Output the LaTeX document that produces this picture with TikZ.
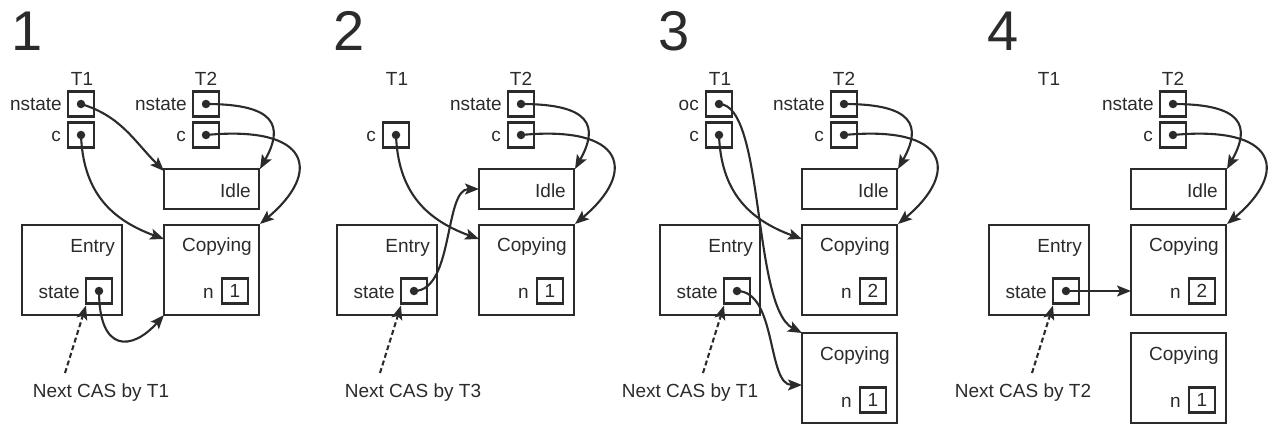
\documentclass[tikz,border=0pt]{standalone}
\usepackage{fontspec}
\setmainfont{Liberation Sans}
\usetikzlibrary{arrows.meta}
\definecolor{ink}{HTML}{2B2B2B}
\newcommand\labfont{\fontsize{19}{19}\selectfont}
\newcommand\bigfont{\fontsize{56}{56}\selectfont}
\begin{document}
\begin{tikzpicture}[x=1pt,y=-1pt,
  box/.style={draw=ink, line width=2.4pt, inner sep=0pt, outer sep=0pt, anchor=north west},
  cell/.style={draw=ink, line width=2.2pt, minimum width=26pt, minimum height=25pt, inner sep=0pt, outer sep=0pt, font=\labfont, text=ink},
  dot/.style={circle, fill=ink, inner sep=0pt, minimum size=8.5pt},
  lbl/.style={font=\labfont, text=ink, inner sep=0pt},
  digit/.style={font=\bigfont, text=ink, inner sep=0pt, anchor=base west},
  ptr/.style={-{Stealth[length=14pt,width=11pt,inset=3pt]}, line width=2.1pt, draw=ink},
  hint/.style={ptr, dash pattern=on 5pt off 3pt}]
\useasboundingbox (0,0) rectangle (1280,434);
\fill[white] (0,0) rectangle (1280,434);

% ---------------- Panel 1 ----------------
\begin{scope}
\node[digit] (Anum) at (11,50) {1};
\node[lbl, anchor=base] (At1) at (82,85) {T1};
\node[lbl, anchor=base] (At2) at (206,85) {T2};
\node[cell] (A1ns) at (81,104) {}; \node[dot] (A1nsd) at (A1ns.center) {};
\node[cell] (A1c) at (81,135) {};  \node[dot] (A1cd) at (A1c.center) {};
\node[lbl, anchor=base east] (A1nsl) at (62,110) {nstate};
\node[lbl, anchor=base east] (A1cl) at (61,141) {c};
\node[cell] (A2ns) at (206,104) {}; \node[dot] (A2nsd) at (A2ns.center) {};
\node[cell] (A2c) at (206,135) {};  \node[dot] (A2cd) at (A2c.center) {};
\node[lbl, anchor=base east] (A2nsl) at (187,110) {nstate};
\node[lbl, anchor=base east] (A2cl) at (186,141) {c};
\node[box, minimum width=95pt, minimum height=40pt] (Aidle) at (164,169) {};
\node[lbl, anchor=base east] (Aidlel) at (251,197) {Idle};
\node[box, minimum width=95pt, minimum height=90pt] (Acp) at (164,225) {};
\node[lbl, anchor=base east] (Acpl) at (252,251) {Copying};
\node[cell] (An) at (235,291) {1};
\node[lbl, anchor=base east] (Anl) at (214,298) {n};
\node[box, minimum width=100pt, minimum height=90pt] (Aent) at (22,225) {};
\node[lbl, anchor=base east] (Aentl) at (115,252) {Entry};
\node[cell] (Ast) at (99,291) {}; \node[dot] (Astd) at (Ast.center) {};
\node[lbl, anchor=base east] (Astl) at (80,298) {state};
\node[lbl, anchor=base] (Anext) at (101,397) {Next CAS by T1};
\coordinate (Ahs) at (65,373);
\draw[hint] (Ahs) -- ([yshift=-2pt]Ast.south west);
\draw[ptr] (A1ns.center) .. controls +(40,12) and +(-30,-30) .. ([yshift=-2pt]Aidle.north west);
\draw[ptr] (A1c.center) .. controls +(2,55) and +(-55,-20) .. ([yshift=-14pt]Acp.north west);
\draw[ptr] (A2ns.center) .. controls +(70,0) and +(24,-43) .. ([xshift=1pt]Aidle.north east);
\draw[ptr] (A2c.center) .. controls +(105,-10) and +(62,-52) .. ([xshift=1pt,yshift=1pt]Acp.north east);
\draw[ptr] (Ast.center) .. controls +(0,62) and +(-32,36) .. (Acp.south west);
\end{scope}

% ---------------- Panel 2 ----------------
\begin{scope}[shift={(315,0)}]
\node[digit] (Bnum) at (18,50) {2};
\node[lbl, anchor=base] (Bt1) at (82,85) {T1};
\node[lbl, anchor=base] (Bt2) at (206,85) {T2};
\node[cell] (B1c) at (81,135) {};  \node[dot] (B1cd) at (B1c.center) {};
\node[lbl, anchor=base east] (B1cl) at (61,141) {c};
\node[cell] (B2ns) at (206,104) {}; \node[dot] (B2nsd) at (B2ns.center) {};
\node[cell] (B2c) at (206,135) {};  \node[dot] (B2cd) at (B2c.center) {};
\node[lbl, anchor=base east] (B2nsl) at (187,110) {nstate};
\node[lbl, anchor=base east] (B2cl) at (186,141) {c};
\node[box, minimum width=95pt, minimum height=40pt] (Bidle) at (164,169) {};
\node[lbl, anchor=base east] (Bidlel) at (251,197) {Idle};
\node[box, minimum width=95pt, minimum height=90pt] (Bcp) at (164,225) {};
\node[lbl, anchor=base east] (Bcpl) at (252,251) {Copying};
\node[cell] (Bn) at (235,291) {1};
\node[lbl, anchor=base east] (Bnl) at (214,298) {n};
\node[box, minimum width=100pt, minimum height=90pt] (Bent) at (22,225) {};
\node[lbl, anchor=base east] (Bentl) at (115,252) {Entry};
\node[cell] (Bst) at (99,291) {}; \node[dot] (Bstd) at (Bst.center) {};
\node[lbl, anchor=base east] (Bstl) at (80,298) {state};
\node[lbl, anchor=base] (Bnext) at (98,397) {Next CAS by T3};
\coordinate (Bhs) at (65,373);
\draw[hint] (Bhs) -- ([yshift=-2pt]Bst.south west);
\draw[ptr] (B1c.center) .. controls +(2,55) and +(-55,-20) .. ([yshift=-14pt]Bcp.north west);
\draw[ptr] (B2ns.center) .. controls +(70,0) and +(24,-43) .. ([xshift=1pt]Bidle.north east);
\draw[ptr] (B2c.center) .. controls +(105,-10) and +(62,-52) .. ([xshift=1pt,yshift=1pt]Bcp.north east);
\draw[ptr] (Bst.center) .. controls +(40,0) and +(-35,0) .. (Bidle.west);
\end{scope}

% ---------------- Panel 3 ----------------
\begin{scope}[shift={(638,0)}]
\node[digit] (Cnum) at (20,50) {3};
\node[lbl, anchor=base] (Ct1) at (82,85) {T1};
\node[lbl, anchor=base] (Ct2) at (206,85) {T2};
\node[cell] (C1oc) at (81,104) {}; \node[dot] (C1ocd) at (C1oc.center) {};
\node[cell] (C1c) at (81,135) {};  \node[dot] (C1cd) at (C1c.center) {};
\node[lbl, anchor=base east] (C1ocl) at (61,110) {oc};
\node[lbl, anchor=base east] (C1cl) at (61,141) {c};
\node[cell] (C2ns) at (206,104) {}; \node[dot] (C2nsd) at (C2ns.center) {};
\node[cell] (C2c) at (206,135) {};  \node[dot] (C2cd) at (C2c.center) {};
\node[lbl, anchor=base east] (C2nsl) at (187,110) {nstate};
\node[lbl, anchor=base east] (C2cl) at (186,141) {c};
\node[box, minimum width=95pt, minimum height=40pt] (Cidle) at (164,169) {};
\node[lbl, anchor=base east] (Cidlel) at (251,197) {Idle};
\node[box, minimum width=95pt, minimum height=90pt] (Ccp) at (164,225) {};
\node[lbl, anchor=base east] (Ccpl) at (252,251) {Copying};
\node[cell] (Cn) at (235,291) {2};
\node[lbl, anchor=base east] (Cnl) at (214,298) {n};
\node[box, minimum width=95pt, minimum height=90pt] (Ccq) at (164,333) {};
\node[lbl, anchor=base east] (Ccql) at (252,360) {Copying};
\node[cell] (Cm) at (235,400) {1};
\node[lbl, anchor=base east] (Cml) at (214,407) {n};
\node[box, minimum width=100pt, minimum height=90pt] (Cent) at (22,225) {};
\node[lbl, anchor=base east] (Centl) at (115,252) {Entry};
\node[cell] (Cst) at (99,291) {}; \node[dot] (Cstd) at (Cst.center) {};
\node[lbl, anchor=base east] (Cstl) at (80,298) {state};
\node[lbl, anchor=base] (Cnext) at (52,397) {Next CAS by T1};
\coordinate (Chs) at (65,373);
\draw[hint] (Chs) -- ([yshift=-2pt]Cst.south west);
\draw[ptr] (C1oc.center) .. controls +(46,0) and +(-50,-26) .. (Ccq.north west);
\draw[ptr] (C1c.center) .. controls +(2,55) and +(-55,-20) .. ([yshift=-14pt]Ccp.north west);
\draw[ptr] (C2ns.center) .. controls +(70,0) and +(24,-43) .. ([xshift=1pt]Cidle.north east);
\draw[ptr] (C2c.center) .. controls +(105,-10) and +(62,-52) .. ([xshift=1pt,yshift=1pt]Ccp.north east);
\draw[ptr] (Cst.center) .. controls +(40,0) and +(-35,0) .. ([yshift=-7pt]Ccq.west);
\end{scope}

% ---------------- Panel 4 ----------------
\begin{scope}[shift={(967,0)}]
\node[digit] (Dnum) at (20,50) {4};
\node[lbl, anchor=base] (Dt1) at (82,85) {T1};
\node[lbl, anchor=base] (Dt2) at (206,85) {T2};
\node[cell] (D2ns) at (206,104) {}; \node[dot] (D2nsd) at (D2ns.center) {};
\node[cell] (D2c) at (206,135) {};  \node[dot] (D2cd) at (D2c.center) {};
\node[lbl, anchor=base east] (D2nsl) at (187,110) {nstate};
\node[lbl, anchor=base east] (D2cl) at (186,141) {c};
\node[box, minimum width=95pt, minimum height=40pt] (Didle) at (164,169) {};
\node[lbl, anchor=base east] (Didlel) at (251,197) {Idle};
\node[box, minimum width=95pt, minimum height=90pt] (Dcp) at (164,225) {};
\node[lbl, anchor=base east] (Dcpl) at (252,251) {Copying};
\node[cell] (Dn) at (235,291) {2};
\node[lbl, anchor=base east] (Dnl) at (214,298) {n};
\node[box, minimum width=95pt, minimum height=90pt] (Dcq) at (164,333) {};
\node[lbl, anchor=base east] (Dcql) at (252,360) {Copying};
\node[cell] (Dm) at (235,400) {1};
\node[lbl, anchor=base east] (Dml) at (214,407) {n};
\node[box, minimum width=100pt, minimum height=90pt] (Dent) at (22,225) {};
\node[lbl, anchor=base east] (Dentl) at (115,252) {Entry};
\node[cell] (Dst) at (99,291) {}; \node[dot] (Dstd) at (Dst.center) {};
\node[lbl, anchor=base east] (Dstl) at (80,298) {state};
\node[lbl, anchor=base] (Dnext) at (56,397) {Next CAS by T2};
\coordinate (Dhs) at (65,373);
\draw[hint] (Dhs) -- ([yshift=-2pt]Dst.south west);
\draw[ptr] (D2ns.center) .. controls +(70,0) and +(24,-43) .. ([xshift=1pt]Didle.north east);
\draw[ptr] (D2c.center) .. controls +(105,-10) and +(62,-52) .. ([xshift=1pt,yshift=1pt]Dcp.north east);
\draw[ptr] (Dst.center) -- (Dst.center -| Dcp.west);
\end{scope}
\end{tikzpicture}
\end{document}
